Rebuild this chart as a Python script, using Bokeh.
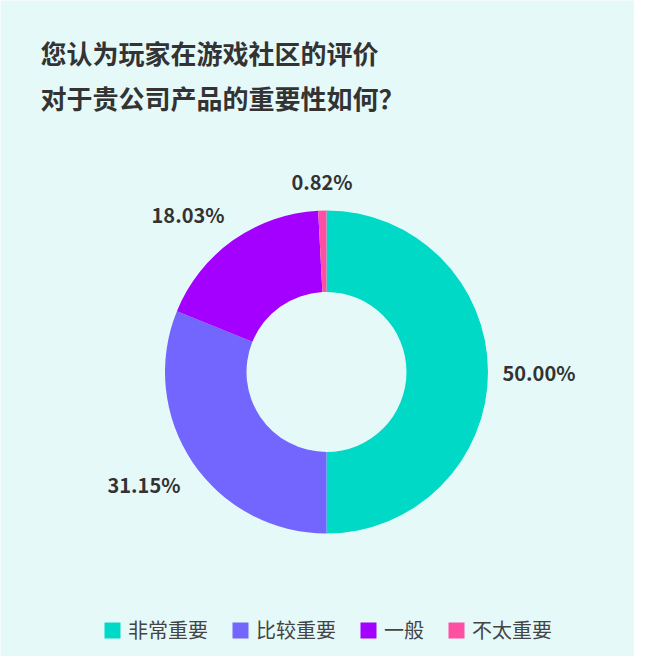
import numpy as np
from bokeh.plotting import figure
from bokeh.models import ColumnDataSource, Range1d, Label
from bokeh.embed import file_html
from bokeh.resources import INLINE

categories = ["非常重要", "比较重要", "一般", "不太重要"]
shares = [50.00, 31.15, 18.03, 0.82]
pct_labels = ["50.00%", "31.15%", "18.03%", "0.82%"]
colors = ["#00d9c6", "#7366ff", "#a300ff", "#ff4fa3"]
title_lines = ["您认为玩家在游戏社区的评价", "对于贵公司产品的重要性如何？"]

W, H = 634, 656
FONT = "Noto Sans CJK SC"
BG = "#e6f9f9"


def py(y):
    # y measured from the top -> data y (up)
    return H - y


p = figure(width=W, height=H, x_range=Range1d(0, W), y_range=Range1d(0, H),
           output_backend="svg", toolbar_location=None, min_border=0)
p.axis.visible = False
p.grid.visible = False
p.outline_line_color = None
p.background_fill_color = BG
p.border_fill_color = BG

frac = np.array(shares) / sum(shares)
cum = np.concatenate([[0], np.cumsum(frac)])
start = np.pi / 2 - cum[:-1] * 2 * np.pi
end = np.pi / 2 - cum[1:] * 2 * np.pi
src = ColumnDataSource(dict(cat=categories, start=start, end=end, color=colors))

cx, cy = 326, py(371.5)
r_in, r_out = 80, 161.5
p.annular_wedge(x=cx, y=cy, inner_radius=r_in, outer_radius=r_out,
                start_angle="start", end_angle="end", direction="clock",
                fill_color="color", line_color=None, legend_field="cat", source=src)

# percentage labels outside the ring, the nearest side of the text facing the ring
mid = (start + end) / 2
r_lab = 176
for ang, txt in zip(mid, pct_labels):
    c, s = np.cos(ang), np.sin(ang)
    align = "left" if c > 0.2 else ("right" if c < -0.2 else "center")
    base = "bottom" if s > 0.2 else ("top" if s < -0.2 else "middle")
    p.add_layout(Label(x=cx + r_lab * c, y=cy + r_lab * s, text=txt,
                       text_align=align, text_baseline=base, text_font=FONT,
                       text_font_size="20px", text_font_style="bold", text_color="#333333"))

# title
for i, line in enumerate(title_lines):
    p.add_layout(Label(x=40, y=py(52 + i * 45), text=line, text_baseline="middle",
                       text_font=FONT, text_font_size="26px", text_font_style="bold",
                       text_color="#333333"))

lg = p.legend[0]
lg.orientation = "horizontal"
lg.location = (102, 12)
lg.padding = 0
lg.margin = 0
lg.spacing = 22
lg.label_standoff = 6
lg.glyph_width = 20
lg.glyph_height = 20
lg.label_text_font = FONT
lg.label_text_font_size = "20px"
lg.label_text_color = "#444444"
lg.background_fill_alpha = 0
lg.border_line_color = None

open("out.html", "w").write(file_html(p, INLINE))
